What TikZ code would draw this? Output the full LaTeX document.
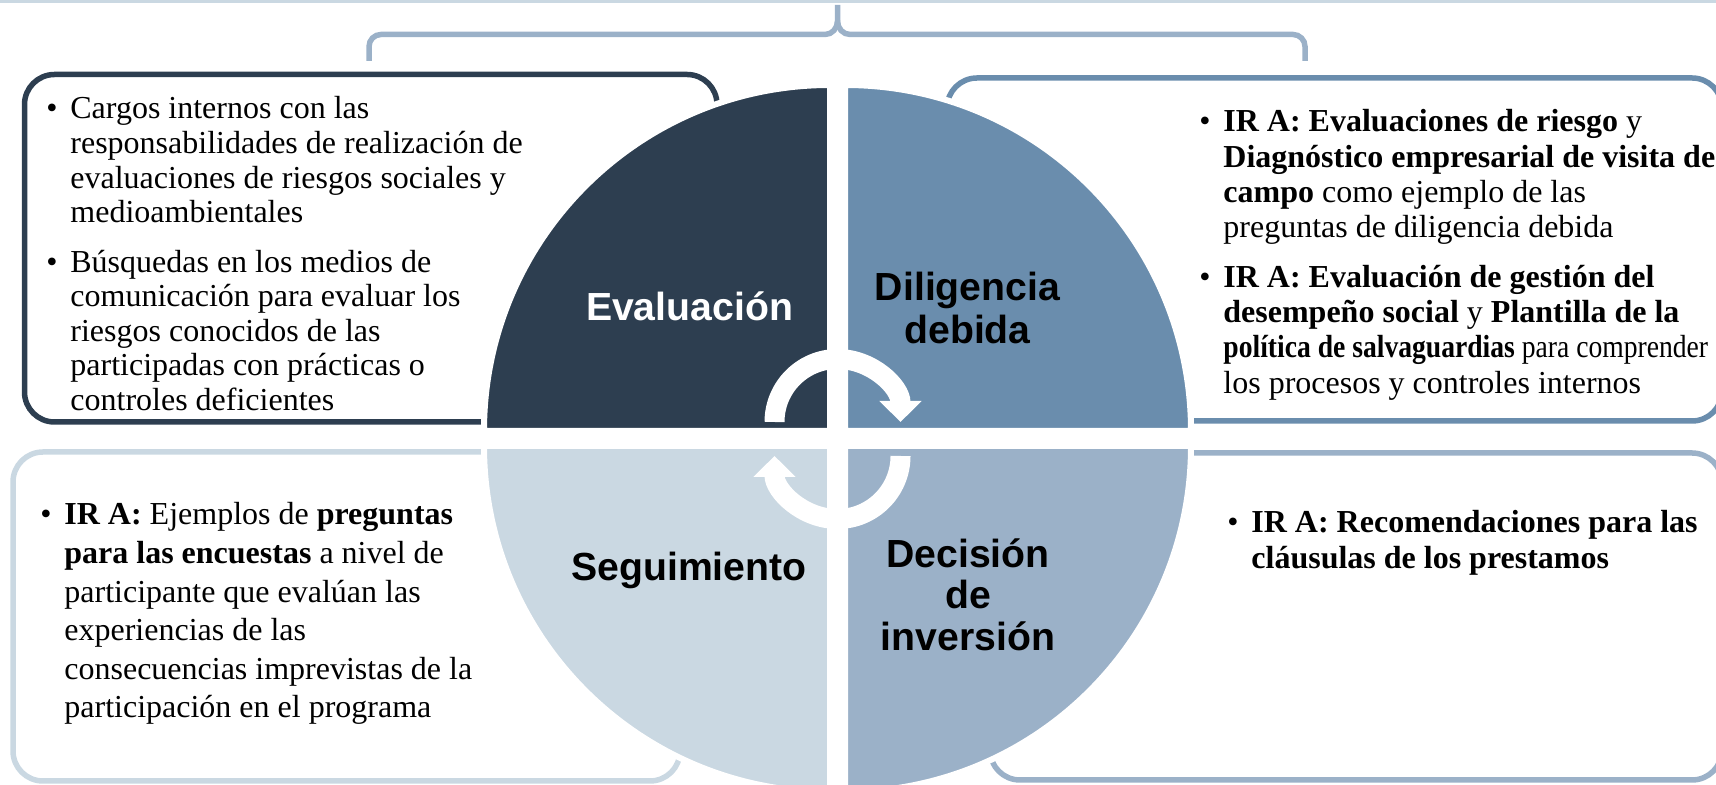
\documentclass[tikz,border=0pt]{standalone}
\usepackage{fontspec}
\setmainfont{Liberation Serif}
\newfontfamily\labelfont{Liberation Sans}
\usepackage{graphicx}
\usetikzlibrary{arrows.meta,positioning}

\definecolor{qdark}{RGB}{45,62,80}
\definecolor{qmid}{RGB}{106,141,173}
\definecolor{qsoft}{RGB}{155,177,200}
\definecolor{qpale}{RGB}{202,216,226}

\tikzstyle{panel} = [line width=2.75pt,rounded corners=15pt]
\tikzstyle{quarter} = [draw=white,line width=3pt]
\tikzstyle{cyclearrow} = [white,line width=10pt,-{Triangle[width=20.5pt,length=10.5pt]}]
\tikzstyle{phase} = [font=\labelfont\bfseries\fontsize{19.6}{21.5}\selectfont,inner sep=0pt,anchor=base]
\tikzstyle{bullets} = [inner sep=0pt,anchor=base west,font=\fontsize{16}{17.3}\selectfont]

\newcommand{\bitem}[1]{\makebox[12pt][l]{\textbullet}\begin{tabular}[t]{@{}l@{}}#1\end{tabular}}
\newcommand{\cstack}[1]{\begin{tabular}[t]{@{}c@{}}#1\end{tabular}}

\begin{document}
\begin{tikzpicture}[x=0.5pt,y=0.5pt]
    \useasboundingbox (0,0) rectangle (1716,785);
    \clip (0,0) rectangle (1716,785);
    % band and brace on top
    \fill[qpale] (0,782) rectangle (1716,785);
    \draw[qsoft,line width=2.75pt] (369,724) -- (369,738.5) arc[start angle=180,end angle=90,radius=12]
        -- (825,750.5) to[out=0,in=-90] (837.5,764) -- (837.5,780);
    \draw[qsoft,line width=2.75pt] (1305,724) -- (1305,738.5) arc[start angle=0,end angle=90,radius=12]
        -- (850,750.5) to[out=180,in=-90] (837.5,764);
    % panels
    \draw[panel,qdark] (24.5,363) rectangle (717,710.5);
    \draw[panel,qmid] (947,364) rectangle (1722,707);
    \draw[panel,qpale] (13,4) rectangle (680,333);
    \draw[panel,qsoft] (990,5) rectangle (1722,332);
    % wheel
    \coordinate (hub) at (837.5,346.5);
    \path[quarter,fill=qdark] (830,354) -- (484,354) arc[start angle=180,end angle=90,radius=346] -- cycle;
    \path[quarter,fill=qmid] (845,354) -- (845,700) arc[start angle=90,end angle=0,radius=346] -- cycle;
    \path[quarter,fill=qpale] (830,339) -- (484,339) arc[start angle=180,end angle=270,radius=346] -- cycle;
    \path[quarter,fill=qsoft] (845,339) -- (1191,339) arc[start angle=0,end angle=-90,radius=346] -- cycle;
    \draw[cyclearrow] ([shift={(-63,16.5)}]hub) arc[start angle=180,end angle=0,radius=63];
    \draw[cyclearrow] ([shift={(63,-17.5)}]hub) arc[start angle=0,end angle=-180,radius=63];
    % phase labels
    \node[phase,text=white] (p_eval) at (689.5,464) {Evaluación};
    \node[phase] (p_dil) at (967.5,484) {\cstack{Diligencia\\debida}};
    \node[phase] (p_seg) at (689,204) {Seguimiento};
    \node[phase,font=\labelfont\bfseries\fontsize{19.6}{20.5}\selectfont] (p_dec) at (968,217) {\cstack{Decisión\\de\\inversión}};
    % panel texts
    \node[bullets] (t_eval1) at (46,666) {\bitem{Cargos internos con las\\responsabilidades de realización de\\evaluaciones de riesgos sociales y\\medioambientales}};
    \node[bullets,below right=7pt and 0pt of t_eval1.south west] (t_eval2) {\bitem{Búsquedas en los medios de\\comunicación para evaluar los\\riesgos conocidos de las\\participadas con prácticas o\\controles deficientes}};
    \node[bullets,font=\fontsize{16}{17.6}\selectfont] (t_dil1) at (1199,653) {\bitem{\textbf{IR A: Evaluaciones de riesgo} y\\\textbf{Diagnóstico empresarial de visita de}\\\textbf{campo} como ejemplo de las\\preguntas de diligencia debida}};
    \node[bullets,font=\fontsize{16}{17.6}\selectfont,below right=7pt and 0pt of t_dil1.south west] (t_dil2) {\bitem{\textbf{IR A: Evaluación de gestión del}\\\textbf{desempeño social} y \textbf{Plantilla de la}\\\scalebox{0.863}[1]{\textbf{política de salvaguardias} para comprender}\\los procesos y controles internos}};
    \node[bullets,font=\fontsize{16}{19.3}\selectfont] (t_seg) at (40,260) {\bitem{\textbf{IR A:} Ejemplos de \textbf{preguntas}\\\textbf{para las encuestas} a nivel de\\participante que evalúan las\\experiencias de las\\consecuencias imprevistas de la\\participación en el programa}};
    \node[bullets,font=\fontsize{16}{17.8}\selectfont] (t_dec) at (1227,252) {\bitem{\textbf{IR A: Recomendaciones para las}\\\textbf{cláusulas de los prestamos}}};
\end{tikzpicture}
\end{document}
